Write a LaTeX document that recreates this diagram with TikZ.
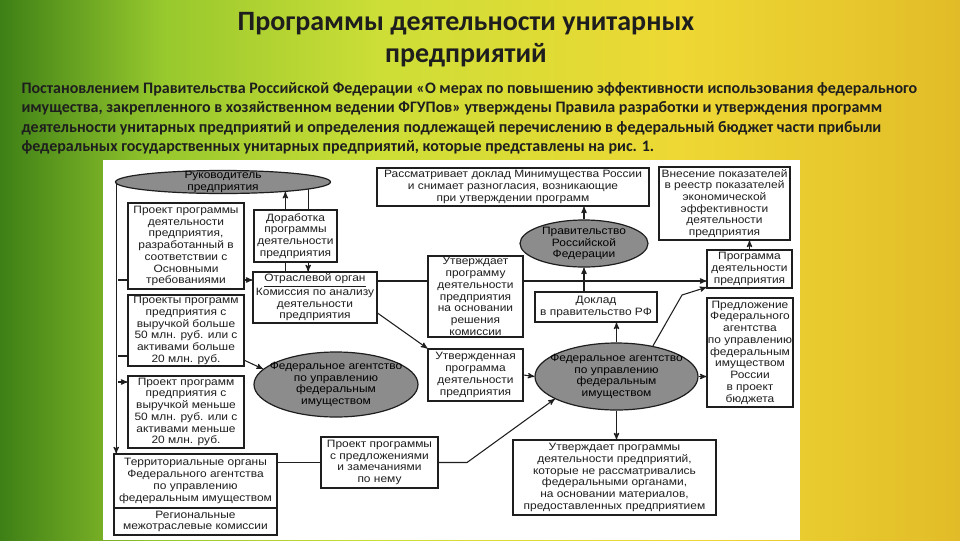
\documentclass[tikz,border=0pt]{standalone}
\usepackage{fontspec}
\setmainfont{Carlito}
\newfontfamily\diagfont[FakeStretch=1.12]{Liberation Sans}
\usetikzlibrary{arrows,shapes,positioning}

\definecolor{leafdark}{RGB}{62,128,22}
\definecolor{leafgreen}{RGB}{150,200,45}
\definecolor{leaflime}{RGB}{205,222,55}
\definecolor{leafyellow}{RGB}{238,216,52}
\definecolor{leafamber}{RGB}{226,188,40}
\definecolor{ovalgray}{RGB}{140,140,140}
\definecolor{inkgray}{RGB}{30,30,30}

\newcommand{\diag}{\diagfont\fontsize{8}{8.8}\selectfont}

\begin{document}
\begin{tikzpicture}
[x=0.75pt, y=-0.75pt, draw=inkgray, line width=0.8pt, >=stealth',
box/.style={rectangle, draw, line width=0.9pt, fill=white, inner sep=0pt, align=center, font=\diag, text=inkgray},
oval/.style={ellipse, draw, line width=0.9pt, fill=ovalgray, inner xsep=-12pt, inner ysep=-6pt, align=center, font=\diag, text=black},
sz/.style 2 args={minimum width=#1*0.75pt, minimum height=#2*0.75pt}]

\useasboundingbox (0,0) rectangle (960,540);

% leaf background and white panel
\shade[left color=leafdark, right color=leafgreen] (0,0) rectangle (160,540);
\shade[left color=leafgreen, right color=leaflime] (160,0) rectangle (380,540);
\shade[left color=leaflime, right color=leafyellow] (380,0) rectangle (680,540);
\shade[left color=leafyellow, right color=leafamber] (680,0) rectangle (960,540);
\fill[white] (103,160) rectangle (800,540);

\node[font=\bfseries\fontsize{21}{24}\selectfont, align=center, text=inkgray] (title) at (466,40) {Программы деятельности унитарных\\предприятий};
\node[anchor=north west, font=\bfseries\fontsize{12}{14.6}\selectfont, align=left, inner sep=0pt, text=inkgray] (intro) at (21,82)
{Постановлением Правительства Российской Федерации «О мерах по повышению эффективности использования федерального\\
имущества, закрепленного в хозяйственном ведении ФГУПов» утверждены Правила разработки и утверждения программ\\
деятельности унитарных предприятий и определения подлежащей перечислению в федеральный бюджет части прибыли\\
федеральных государственных унитарных предприятий, которые представлены на рис. 1.};

% left column
\node[oval, sz={215}{23}] (ruk) at (223,182) {Руководитель\\предприятия};
\node[box, sz={116}{86}] (pr1) at (186,246) {Проект программы\\деятельности\\предприятия,\\разработанный в\\соответствии с\\Основными\\требованиями};
\node[box, sz={83}{52}] (dor) at (295.5,236) {Доработка\\программы\\деятельности\\предприятия};
\node[box, sz={124}{51}] (otr) at (315,297.5) {\underline{Отраслевой орган}\\Комиссия по анализу\\деятельности\\предприятия};
\node[box, sz={116}{71}] (pr2) at (186,330.5) {Проекты программ\\предприятия с\\выручкой больше\\50 млн. руб. или с\\активами больше\\20 млн. руб.};
\node[box, sz={116}{72}] (pr3) at (186,412) {Проект программ\\предприятия с\\выручкой меньше\\50 млн. руб. или с\\активами меньше\\20 млн. руб.};
\node[box, sz={163}{54}] (ter) at (195.5,481) {Территориальные органы\\Федерального агентства\\по управлению\\федеральным имуществом};
\node[box, sz={163}{27}] (reg) at (195.5,521.5) {Региональные\\межотраслевые комиссии};
\node[oval, sz={164}{65}] (fa1) at (336,384.5) {Федеральное агентство\\по управлению\\федеральным\\имуществом};

% middle and right
\node[box, sz={272}{38}] (ras) at (513,187) {Рассматривает доклад Минимущества России\\и снимает разногласия, возникающие\\при утверждении программ};
\node[box, sz={131}{73}] (vne) at (724.5,203.5) {Внесение показателей\\в реестр показателей\\экономической\\эффективности\\деятельности\\предприятия};
\node[oval, sz={128}{47}] (prav) at (584,243.5) {Правительство\\Российской\\Федерации};
\node[box, sz={95}{81}] (utv) at (475.5,296.5) {Утверждает\\программу\\деятельности\\предприятия\\на основании\\решения\\комиссии};
\node[box, sz={85}{38}] (prog) at (749.5,269) {Программа\\деятельности\\предприятия};
\node[box, sz={122}{30}] (dok) at (596,307) {Доклад\\в правительство РФ};
\node[box, sz={95}{52}] (utd) at (475.5,375) {Утвержденная\\программа\\деятельности\\предприятия};
\node[oval, sz={163}{67}] (fa2) at (616.5,376.5) {Федеральное агентство\\по управлению\\федеральным\\имуществом};
\node[box, sz={86}{109}] (pred) at (750,352.5) {Предложение\\Федерального\\агентства\\по управлению\\федеральным\\имуществом\\России\\в проект\\бюджета};
\node[box, sz={117}{51}] (ppz) at (379.5,462.5) {Проект программы\\с предложениями\\и замечаниями\\по нему};
\node[box, sz={203}{75}] (utn) at (614.5,477.5) {Утверждает программы\\деятельности предприятий,\\которые не рассматривались\\федеральными органами,\\на основании материалов,\\предоставленных предприятием};

% connectors
\coordinate (b1) at (118,280);
\coordinate (b2) at (118,356);
\coordinate (b3) at (118,382);
\coordinate (lvl) at (0,281);
\coordinate (kink) at (467,462.5);
\coordinate (bend) at (682,295);

\draw[->] (ruk.181.4) -- (ruk.181.4 |- ter.north);
\draw (b1) -- (b1 -| pr1.west);
\draw (b2) -- (b2 -| pr2.west);
\draw[->] (b3) -- (b3 -| pr3.west);
\draw[->] (pr1.east |- b1) -- (otr.west |- b1);

\draw (ruk.-9.2 |- otr.north) -- (ruk.-9.2 |- dor.south);
\draw[->] (ruk.-9.2 |- dor.north) -- (ruk.-9.2);
\draw (ruk.-5.6) -- (ruk.-5.6 |- dor.north);
\draw[->] (ruk.-5.6 |- dor.south) -- (ruk.-5.6 |- otr.north);

\draw (otr.east |- lvl) -- (utv.west |- lvl);
\draw[->] (utv.east |- lvl) -- (prog.west |- lvl);
\draw[->] (otr.-14) -- (utd.north west);
\draw[->] (pr2.-27) -- (fa1.168);
\draw (ter.east |- ppz.west) -- (ppz.west);
\draw[->] (ppz.east) -- (kink) -- (fa2.200);
\draw[->] (utd.east) -- (fa2.west);
\draw[->] (fa2.north) -- (fa2.north |- dok.south);
\draw[->] (prav.south |- dok.north) -- (prav.south);
\draw[->] (prav.north) -- (prav.north |- ras.south);
\draw[->] (fa2.40) -- (bend) -- (prog.203);
\draw[->] (fa2.east) -- (pred.west |- fa2.east);
\draw[->] (prog.north) -- (prog.north |- vne.south);
\draw[->] (fa2.south) -- (fa2.south |- utn.north);

\end{tikzpicture}
\end{document}
